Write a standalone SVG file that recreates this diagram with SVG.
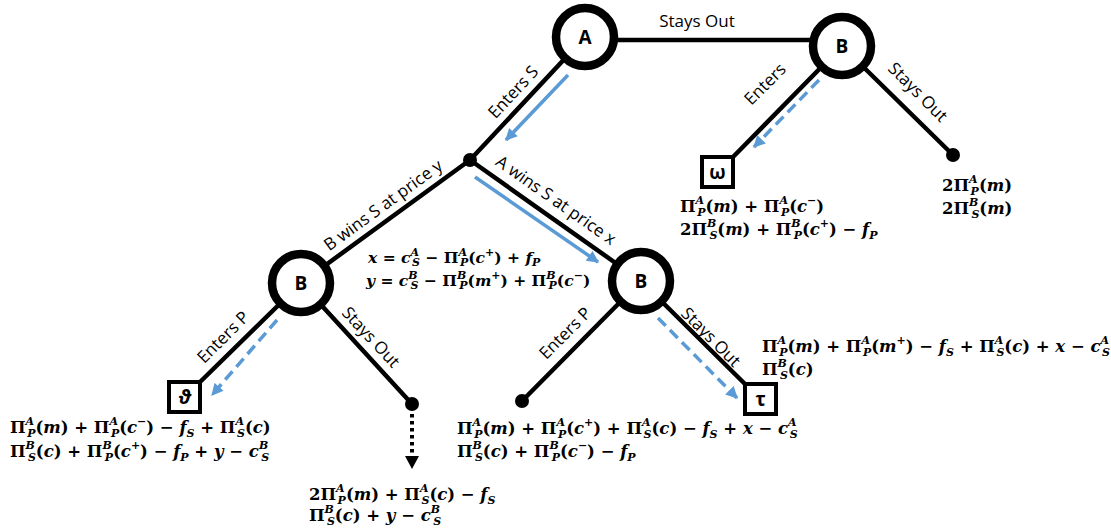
<svg xmlns="http://www.w3.org/2000/svg" width="1111" height="529" viewBox="0 0 1111 529">
  <defs>
    <marker id="blueHead" viewBox="0 0 10 10" refX="9" refY="5" markerUnits="userSpaceOnUse" markerWidth="13" markerHeight="12" orient="auto">
      <path d="M0,0 L10,5 L0,10 z" fill="#5B9BD5"/>
    </marker>
  </defs>
  <style>
    .edge { stroke: #000; stroke-width: 4.5; fill: none; stroke-linecap: round; }
    .hint { stroke: #5B9BD5; stroke-width: 3.5; fill: none; marker-end: url(#blueHead); }
    .dash { stroke-dasharray: 11 6; }
    .circ { fill: #fff; stroke: #000; stroke-width: 8.5; }
    .box { fill: #fff; stroke: #000; stroke-width: 4; }
    .dot { fill: #000; }
    .nl { font-family: "Open Sans", "Liberation Sans", sans-serif; font-weight: bold; font-size: 19px; fill: #000; text-anchor: middle; }
    .lbl { font-family: "Open Sans", "Liberation Sans", sans-serif; font-size: 17px; fill: #000; text-anchor: middle; }
    .m { font-family: "DejaVu Serif", "Liberation Serif", serif; font-weight: bold; font-size: 16.5px; fill: #000; }
    .pr { font-size: 15.5px; }
    .i { font-style: italic; }
    .sp { font-size: 11px; font-style: italic; }
    .sb { font-size: 11px; font-style: italic; }
    .su { font-size: 11px; }
  </style>

  <!-- connectors -->
  <g id="connectors">
    <line class="edge" x1="585" y1="40" x2="842" y2="40"/>
    <line class="edge" x1="585" y1="37" x2="470" y2="160"/>
    <line class="edge" x1="470" y1="160" x2="301" y2="283"/>
    <line class="edge" x1="470" y1="160" x2="641" y2="281"/>
    <line class="edge" x1="842" y1="46" x2="733" y2="157"/>
    <line class="edge" x1="842" y1="46" x2="953" y2="155"/>
    <line class="edge" x1="301" y1="283" x2="199" y2="383"/>
    <line class="edge" x1="301" y1="283" x2="412" y2="404"/>
    <line class="edge" x1="641" y1="281" x2="522" y2="401"/>
    <line class="edge" x1="641" y1="281" x2="746" y2="385"/>

    <line class="hint" x1="568" y1="75" x2="506" y2="140"/>
    <line class="hint dash" x1="819" y1="80" x2="754" y2="147"/>
    <line class="hint" x1="475" y1="177" x2="598" y2="262"/>
    <line class="hint dash" x1="277" y1="320" x2="212" y2="395"/>
    <line class="hint dash" x1="658" y1="318" x2="737" y2="398"/>

    <line x1="412" y1="414" x2="412" y2="458" stroke="#000" stroke-width="4" stroke-dasharray="3.5 3.5"/>
    <path d="M405,456 L419,456 L412,469 z" fill="#000"/>

    <text class="lbl" transform="translate(697,21)" dy="0.35em">Stays Out</text>
    <text class="lbl" transform="translate(513,92) rotate(-47)" dy="0.35em">Enters S</text>
    <text class="lbl" transform="translate(765,84) rotate(-45)" dy="0.35em">Enters</text>
    <text class="lbl" transform="translate(918,92) rotate(45)" dy="0.35em">Stays Out</text>
    <text class="lbl" transform="translate(383,205) rotate(-36)" dy="0.35em">B wins S at price y</text>
    <text class="lbl" transform="translate(556,200) rotate(35)" dy="0.35em">A wins S at price x</text>
    <text class="lbl" transform="translate(223,337) rotate(-45)" dy="0.35em">Enters P</text>
    <text class="lbl" transform="translate(371,337) rotate(47)" dy="0.35em">Stays Out</text>
    <text class="lbl" transform="translate(565,333) rotate(-45)" dy="0.35em">Enters P</text>
    <text class="lbl" transform="translate(711,337) rotate(45)" dy="0.35em">Stays Out</text>
  </g>

  <!-- decision nodes -->
  <g id="nodeA">
    <circle class="circ" cx="585" cy="37" r="29"/>
    <text class="nl" x="585" y="37" dy="0.35em">A</text>
  </g>
  <g id="nodeB1">
    <circle class="circ" cx="842" cy="46" r="29"/>
    <text class="nl" x="842" y="46" dy="0.35em">B</text>
  </g>
  <g id="nodeJ">
    <circle class="dot" cx="470" cy="160" r="7"/>
  </g>
  <g id="nodeB2">
    <circle class="circ" cx="301" cy="283" r="29"/>
    <text class="nl" x="301" y="283" dy="0.35em">B</text>
  </g>
  <g id="nodeB3">
    <circle class="circ" cx="641" cy="281" r="29"/>
    <text class="nl" x="641" y="281" dy="0.35em">B</text>
  </g>

  <!-- terminal: omega -->
  <g id="leafOmega">
    <rect class="box" x="702" y="157" width="31" height="30"/>
    <text class="nl" x="717.5" y="172" dy="0.35em">ω</text>
    <text class="m" x="680" y="212"><tspan>Π</tspan><tspan class="sp" dy="-8">A</tspan><tspan class="sb" dx="-7" dy="12">P</tspan><tspan dy="-4">(</tspan><tspan class="i">m</tspan><tspan>) + Π</tspan><tspan class="sp" dy="-8">A</tspan><tspan class="sb" dx="-7" dy="12">P</tspan><tspan dy="-4">(</tspan><tspan class="i">c</tspan><tspan class="su" dy="-8">−</tspan><tspan dy="8">)</tspan></text>
    <text class="m" x="680" y="235"><tspan>2Π</tspan><tspan class="sp" dy="-8">B</tspan><tspan class="sb" dx="-7" dy="12">S</tspan><tspan dy="-4">(</tspan><tspan class="i">m</tspan><tspan>) + Π</tspan><tspan class="sp" dy="-8">B</tspan><tspan class="sb" dx="-7" dy="12">P</tspan><tspan dy="-4">(</tspan><tspan class="i">c</tspan><tspan class="su" dy="-8">+</tspan><tspan dy="8">) − </tspan><tspan class="i">f</tspan><tspan class="sb" dy="4">P</tspan></text>
  </g>

  <!-- terminal: both stay out -->
  <g id="leafOut">
    <circle class="dot" cx="953" cy="155" r="7"/>
    <text class="m" x="942" y="191"><tspan>2Π</tspan><tspan class="sp" dy="-8">A</tspan><tspan class="sb" dx="-7" dy="12">P</tspan><tspan dy="-4">(</tspan><tspan class="i">m</tspan><tspan>)</tspan></text>
    <text class="m" x="942" y="214"><tspan>2Π</tspan><tspan class="sp" dy="-8">B</tspan><tspan class="sb" dx="-7" dy="12">S</tspan><tspan dy="-4">(</tspan><tspan class="i">m</tspan><tspan>)</tspan></text>
  </g>

  <!-- auction prices -->
  <g id="prices">
    <text class="m pr" x="368" y="263"><tspan class="i">x</tspan><tspan> = </tspan><tspan class="i">c</tspan><tspan class="sp" dy="-7">A</tspan><tspan class="sb" dx="-7" dy="10">S</tspan><tspan dy="-3"> − Π</tspan><tspan class="sp" dy="-7">A</tspan><tspan class="sb" dx="-7" dy="10">P</tspan><tspan dy="-3">(</tspan><tspan class="i">c</tspan><tspan class="su" dy="-7">+</tspan><tspan dy="7">) +  </tspan><tspan class="i">f</tspan><tspan class="sb" dy="3">P</tspan></text>
    <text class="m pr" x="366" y="286"><tspan class="i">y</tspan><tspan> = </tspan><tspan class="i">c</tspan><tspan class="sp" dy="-7">B</tspan><tspan class="sb" dx="-7" dy="10">S</tspan><tspan dy="-3"> − Π</tspan><tspan class="sp" dy="-7">B</tspan><tspan class="sb" dx="-7" dy="10">P</tspan><tspan dy="-3">(</tspan><tspan class="i">m</tspan><tspan class="su" dy="-7">+</tspan><tspan dy="7">) + Π</tspan><tspan class="sp" dy="-7">B</tspan><tspan class="sb" dx="-7" dy="10">P</tspan><tspan dy="-3">(</tspan><tspan class="i">c</tspan><tspan class="su" dy="-7">−</tspan><tspan dy="7">)</tspan></text>
  </g>

  <!-- terminal: theta -->
  <g id="leafTheta">
    <rect class="box" x="169" y="382" width="31" height="30"/>
    <text class="nl" x="184.5" y="397" dy="0.35em" font-style="italic" font-family="Liberation Serif, serif">ϑ</text>
    <text class="m" x="10" y="433"><tspan>Π</tspan><tspan class="sp" dy="-8">A</tspan><tspan class="sb" dx="-7" dy="12">P</tspan><tspan dy="-4">(</tspan><tspan class="i">m</tspan><tspan>) + Π</tspan><tspan class="sp" dy="-8">A</tspan><tspan class="sb" dx="-7" dy="12">P</tspan><tspan dy="-4">(</tspan><tspan class="i">c</tspan><tspan class="su" dy="-8">−</tspan><tspan dy="8">) − </tspan><tspan class="i">f</tspan><tspan class="sb" dy="4">S</tspan><tspan dy="-4"> + Π</tspan><tspan class="sp" dy="-8">A</tspan><tspan class="sb" dx="-7" dy="12">S</tspan><tspan dy="-4">(</tspan><tspan class="i">c</tspan><tspan>)</tspan></text>
    <text class="m" x="10" y="457"><tspan>Π</tspan><tspan class="sp" dy="-8">B</tspan><tspan class="sb" dx="-7" dy="12">S</tspan><tspan dy="-4">(</tspan><tspan class="i">c</tspan><tspan>) + Π</tspan><tspan class="sp" dy="-8">B</tspan><tspan class="sb" dx="-7" dy="12">P</tspan><tspan dy="-4">(</tspan><tspan class="i">c</tspan><tspan class="su" dy="-8">+</tspan><tspan dy="8">) −  </tspan><tspan class="i">f</tspan><tspan class="sb" dy="4">P</tspan><tspan dy="-4"> + </tspan><tspan class="i">y</tspan><tspan> − </tspan><tspan class="i">c</tspan><tspan class="sp" dy="-8">B</tspan><tspan class="sb" dx="-7" dy="12">S</tspan></text>
  </g>

  <!-- terminal: B stays out after winning S -->
  <g id="leafBout">
    <circle class="dot" cx="412" cy="404" r="7"/>
    <text class="m" x="309" y="500"><tspan>2Π</tspan><tspan class="sp" dy="-8">A</tspan><tspan class="sb" dx="-7" dy="12">P</tspan><tspan dy="-4">(</tspan><tspan class="i">m</tspan><tspan>) + Π</tspan><tspan class="sp" dy="-8">A</tspan><tspan class="sb" dx="-7" dy="12">S</tspan><tspan dy="-4">(</tspan><tspan class="i">c</tspan><tspan>) − </tspan><tspan class="i">f</tspan><tspan class="sb" dy="4">S</tspan></text>
    <text class="m" x="309" y="521"><tspan>Π</tspan><tspan class="sp" dy="-8">B</tspan><tspan class="sb" dx="-7" dy="12">S</tspan><tspan dy="-4">(</tspan><tspan class="i">c</tspan><tspan>) + </tspan><tspan class="i">y</tspan><tspan> − </tspan><tspan class="i">c</tspan><tspan class="sp" dy="-8">B</tspan><tspan class="sb" dx="-7" dy="12">S</tspan></text>
  </g>

  <!-- terminal: B enters P after A wins S -->
  <g id="leafBin">
    <circle class="dot" cx="522" cy="401" r="7"/>
    <text class="m" x="457" y="434"><tspan>Π</tspan><tspan class="sp" dy="-8">A</tspan><tspan class="sb" dx="-7" dy="12">P</tspan><tspan dy="-4">(</tspan><tspan class="i">m</tspan><tspan>) + Π</tspan><tspan class="sp" dy="-8">A</tspan><tspan class="sb" dx="-7" dy="12">P</tspan><tspan dy="-4">(</tspan><tspan class="i">c</tspan><tspan class="su" dy="-8">+</tspan><tspan dy="8">) + Π</tspan><tspan class="sp" dy="-8">A</tspan><tspan class="sb" dx="-7" dy="12">S</tspan><tspan dy="-4">(</tspan><tspan class="i">c</tspan><tspan>) − </tspan><tspan class="i">f</tspan><tspan class="sb" dy="4">S</tspan><tspan dy="-4"> + </tspan><tspan class="i">x</tspan><tspan> − </tspan><tspan class="i">c</tspan><tspan class="sp" dy="-8">A</tspan><tspan class="sb" dx="-7" dy="12">S</tspan></text>
    <text class="m" x="457" y="457"><tspan>Π</tspan><tspan class="sp" dy="-8">B</tspan><tspan class="sb" dx="-7" dy="12">S</tspan><tspan dy="-4">(</tspan><tspan class="i">c</tspan><tspan>) + Π</tspan><tspan class="sp" dy="-8">B</tspan><tspan class="sb" dx="-7" dy="12">P</tspan><tspan dy="-4">(</tspan><tspan class="i">c</tspan><tspan class="su" dy="-8">−</tspan><tspan dy="8">) − </tspan><tspan class="i">f</tspan><tspan class="sb" dy="4">P</tspan></text>
  </g>

  <!-- terminal: tau -->
  <g id="leafTau">
    <rect class="box" x="745" y="384" width="31" height="30"/>
    <text class="nl" x="760.5" y="399" dy="0.35em">τ</text>
    <text class="m" x="762" y="352"><tspan>Π</tspan><tspan class="sp" dy="-8">A</tspan><tspan class="sb" dx="-7" dy="12">P</tspan><tspan dy="-4">(</tspan><tspan class="i">m</tspan><tspan>) + Π</tspan><tspan class="sp" dy="-8">A</tspan><tspan class="sb" dx="-7" dy="12">P</tspan><tspan dy="-4">(</tspan><tspan class="i">m</tspan><tspan class="su" dy="-8">+</tspan><tspan dy="8">) − </tspan><tspan class="i">f</tspan><tspan class="sb" dy="4">S</tspan><tspan dy="-4"> + Π</tspan><tspan class="sp" dy="-8">A</tspan><tspan class="sb" dx="-7" dy="12">S</tspan><tspan dy="-4">(</tspan><tspan class="i">c</tspan><tspan>) + </tspan><tspan class="i">x</tspan><tspan> − </tspan><tspan class="i">c</tspan><tspan class="sp" dy="-8">A</tspan><tspan class="sb" dx="-7" dy="12">S</tspan></text>
    <text class="m" x="762" y="375"><tspan>Π</tspan><tspan class="sp" dy="-8">B</tspan><tspan class="sb" dx="-7" dy="12">S</tspan><tspan dy="-4">(</tspan><tspan class="i">c</tspan><tspan>)</tspan></text>
  </g>
</svg>
